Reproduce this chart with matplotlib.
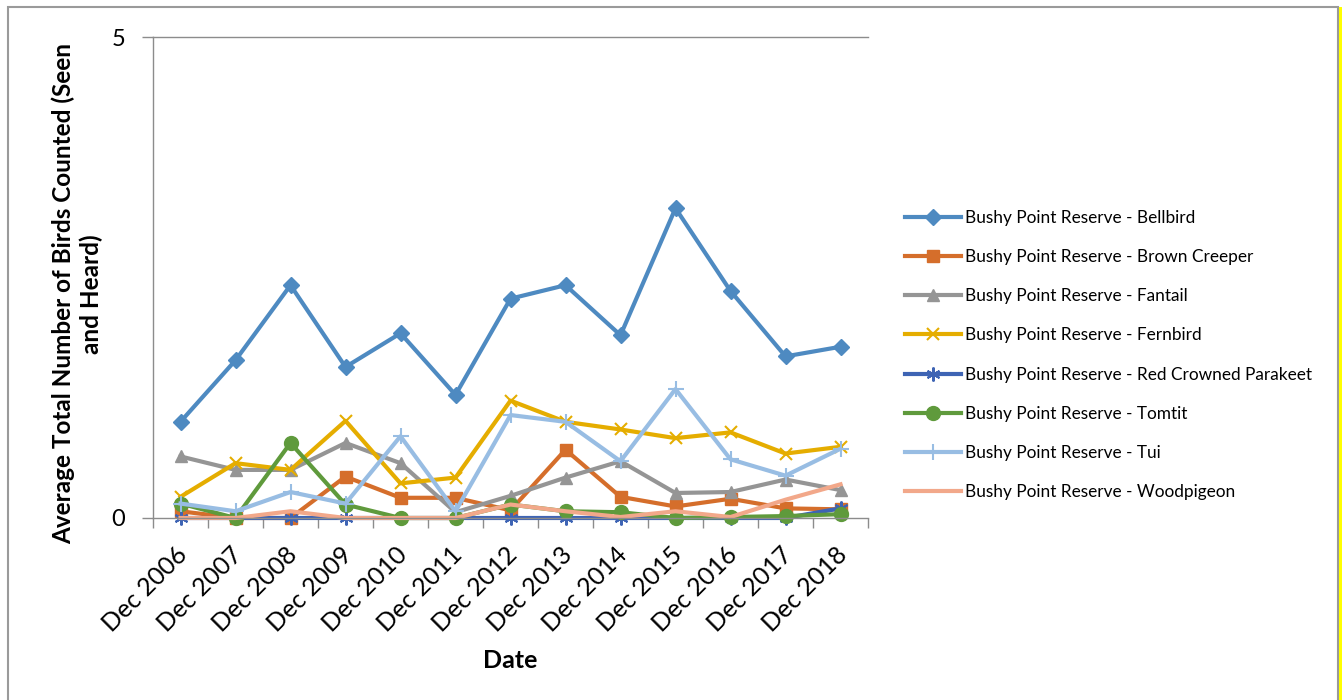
import matplotlib
matplotlib.use('Agg')
import matplotlib.pyplot as plt
import matplotlib.transforms as mtransforms
from matplotlib.patches import Rectangle

plt.rcParams['font.family'] = ['Lato', 'DejaVu Sans']

# Datos
fechas = ['Dec 2006', 'Dec 2007', 'Dec 2008', 'Dec 2009', 'Dec 2010', 'Dec 2011', 'Dec 2012',
          'Dec 2013', 'Dec 2014', 'Dec 2015', 'Dec 2016', 'Dec 2017', 'Dec 2018']

bellbird = [1.00, 1.64, 2.42, 1.57, 1.92, 1.28, 2.28, 2.42, 1.90, 3.22, 2.36, 1.68, 1.78]
brown_creeper = [0.07, 0.0, 0.0, 0.43, 0.21, 0.21, 0.08, 0.71, 0.22, 0.12, 0.20, 0.10, 0.09]
fantail = [0.64, 0.50, 0.50, 0.78, 0.57, 0.06, 0.23, 0.42, 0.59, 0.26, 0.27, 0.40, 0.29]
fernbird = [0.22, 0.57, 0.50, 1.01, 0.36, 0.42, 1.22, 1.00, 0.92, 0.83, 0.89, 0.67, 0.74]
parakeet = [0.0, 0.0, 0.0, 0.0, 0.0, 0.0, 0.0, 0.0, 0.0, 0.0, 0.0, 0.0, 0.10]
tomtit = [0.15, 0.0, 0.78, 0.14, 0.0, 0.0, 0.14, 0.07, 0.06, 0.0, 0.01, 0.02, 0.04]
tui = [0.15, 0.07, 0.27, 0.15, 0.85, 0.07, 1.07, 1.00, 0.59, 1.34, 0.61, 0.44, 0.72]
woodpigeon = [0.0, 0.0, 0.07, 0.0, 0.0, 0.0, 0.14, 0.07, 0.01, 0.07, 0.01, 0.19, 0.35]

series = [
    ('Bushy Point Reserve - Bellbird', bellbird, '#4E8AC1', 'D', 8),
    ('Bushy Point Reserve - Brown Creeper', brown_creeper, '#D56E2B', 's', 9),
    ('Bushy Point Reserve - Fantail', fantail, '#959595', '^', 9),
    ('Bushy Point Reserve - Fernbird', fernbird, '#E5AD00', 'x', 9),
    ('Bushy Point Reserve - Red Crowned Parakeet', parakeet, '#3E64B4', (6, 2, 0), 10),
    ('Bushy Point Reserve - Tomtit', tomtit, '#5F9A3C', 'o', 10),
    ('Bushy Point Reserve - Tui', tui, '#98BDE3', '+', 11),
    ('Bushy Point Reserve - Woodpigeon', woodpigeon, '#F2A88A', None, 0),
]

fig = plt.figure(figsize=(13.42, 7.0), dpi=100)
ax = fig.add_axes([153 / 1342, 182 / 700, 715 / 1342, 481 / 700])

x = list(range(len(fechas)))
for nombre, valores, color, marker, ms in series:
    ax.plot(x, valores, color=color, linewidth=3, marker=marker, markersize=ms,
            markeredgewidth=1.5 if marker in ('x', '+', (6, 2, 0)) else 1,
            markeredgecolor=color, markerfacecolor=color, label=nombre, clip_on=False)

# Ejes
ax.set_xlim(-0.5, len(fechas) - 0.5)
ax.set_ylim(0, 5)
ax.set_yticks([0, 5])
ax.set_yticklabels(['0', '5'], fontsize=17)
ax.set_xticks(x)
ax.set_xticklabels(fechas, rotation=45, ha='right', va='top', rotation_mode='anchor', fontsize=18)
ax.tick_params(axis='x', which='major', length=0, pad=18)
desplaz = mtransforms.ScaledTranslation(-5 / 100, 0, fig.dpi_scale_trans)
for lbl in ax.get_xticklabels():
    lbl.set_transform(lbl.get_transform() + desplaz)
ax.set_xticks([i - 0.5 for i in range(len(fechas) + 1)], minor=True)
ax.tick_params(axis='x', which='minor', length=7, color='#8C8C8C', width=1)
ax.tick_params(axis='y', length=8, color='#8C8C8C', width=1, pad=12)

for s in ['top', 'right']:
    ax.spines[s].set_visible(False)
for s in ['left', 'bottom']:
    ax.spines[s].set_color('#8C8C8C')
    ax.spines[s].set_linewidth(1)
ax.axhline(5, color='#8C8C8C', linewidth=1, clip_on=False)

ax.set_xlabel('Date', fontsize=18, fontweight='bold', labelpad=9)
ax.set_ylabel('Average Total Number of Birds Counted (Seen\nand Heard)', fontsize=17.5,
              fontweight='bold')
ax.yaxis.set_label_coords(-0.07, 0.466)

# Leyenda a la derecha
leg = fig.legend(loc='center left', bbox_to_anchor=(889 / 1342, 1 - 355 / 700), frameon=False,
                 fontsize=12.4, labelspacing=1.35, handlelength=3.3, handletextpad=0.2)

# Marco del grafico
fig.patches.append(Rectangle((8 / 1342, -0.05), 1330 / 1342, 0.05 + 693 / 700, transform=fig.transFigure,
                             fill=False, edgecolor='#9A9A9A', linewidth=1.5))
fig.patches.append(Rectangle((1339 / 1342, 0), 3 / 1342, 693 / 700, transform=fig.transFigure,
                             facecolor='#FFFF00', edgecolor='none'))

fig.savefig('out.png', dpi=100)
